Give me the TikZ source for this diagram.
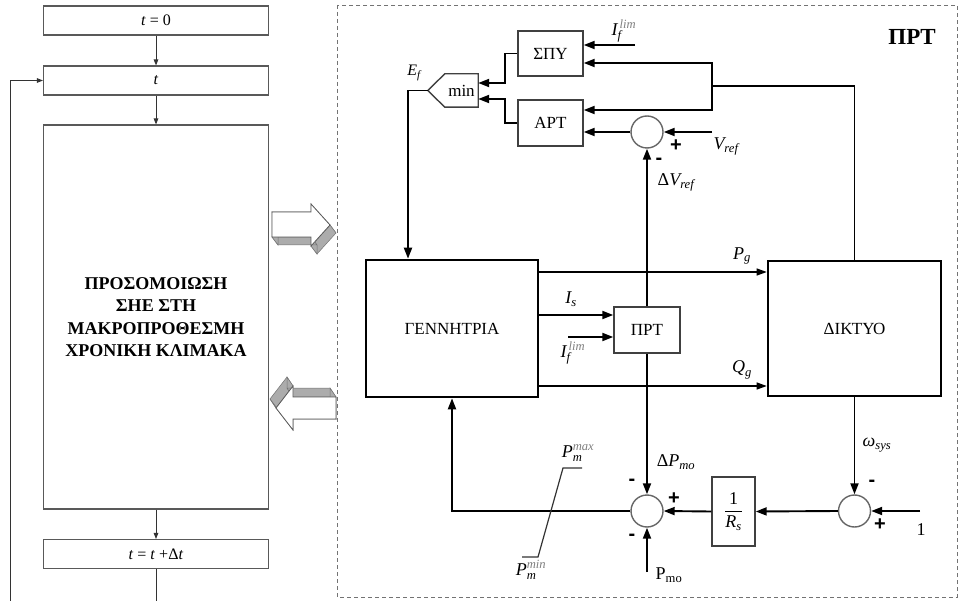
\documentclass[tikz,border=0pt]{standalone}
\usepackage{amsmath}
\usepackage{fontspec}
\setmainfont{Liberation Serif}
\newfontfamily\signfont{Liberation Sans}
\usetikzlibrary{arrows.meta,calc}
\newcommand{\vi}[1]{\textit{#1}}
\begin{document}
\begin{tikzpicture}[x=1pt,y=-1pt,
  flowbox/.style={draw=black!65, line width=1.1pt, minimum width=225, minimum height=29, inner sep=0, font=\fontsize{16}{18}\selectfont},
  flowarr/.style={draw=black!80, line width=0.9pt, -{Triangle[length=6pt,width=4.5pt]}},
  blk/.style={draw=black!75, line width=1.4pt, fill=white, inner sep=0, font=\fontsize{17}{19}\selectfont},
  bigblk/.style={draw=black, line width=2.6pt, inner sep=0, font=\fontsize{17}{19}\selectfont},
  sumc/.style={circle, draw=black!60, line width=1.4pt, minimum size=32, inner sep=0, fill=white},
  sig/.style={line width=1.9pt, -{Triangle[length=11pt,width=8pt]}},
  sigthin/.style={line width=1.3pt, -{Triangle[length=10pt,width=7pt]}},
  lbl/.style={font=\fontsize{18}{20}\selectfont, inner sep=0},
  sgn/.style={font=\signfont\bfseries\fontsize{20}{22}\selectfont, inner sep=0},
]
\useasboundingbox (0,0) rectangle (960,601);
\fill[white] (0,0) rectangle (960,601);

% ---------- left flow ----------
\node[flowbox] (t0) at (156,20.5) {\vi{t} = 0};
\node[flowbox] (tt) at (156,80.5) {\vi{t}};
\node[flowbox, minimum height=384, font=\bfseries\fontsize{18}{22.5}\selectfont, align=center] (sim) at (156,317)
  {ΠΡΟΣΟΜΟΙΩΣΗ\\ΣΗΕ ΣΤΗ\\ΜΑΚΡΟΠΡΟΘΕΣΜΗ\\ΧΡΟΝΙΚΗ ΚΛΙΜΑΚΑ};
\node[flowbox] (tinc) at (156,554) {\vi{t} = \vi{t} +Δ\vi{t}};
\coordinate (bot) at (156,601);
\coordinate (fb) at (10,601);
\draw[flowarr] (t0.south) -- (tt.north);
\draw[flowarr] (tt.south) -- (sim.north);
\draw[flowarr] (sim.south) -- (tinc.north);
\draw[draw=black!80, line width=0.9pt] (tinc.south) -- (bot);
\draw[flowarr] (fb) |- (tt.west);

% ---------- 3D block arrows ----------
\foreach \ax/\ay/\bx/\by in {272/212/311/212, 311/212/311/204, 311/204/330/225, 330/225/311/246, 311/246/311/237, 311/237/272/237, 272/237/272/212}{
  \filldraw[fill=gray!65, draw=black!55, line width=0.5pt] (\ax,\ay) -- (\bx,\by) -- (\bx+6,\by+8) -- (\ax+6,\ay+8) -- cycle;}
\filldraw[fill=white, draw=black!65, line width=0.8pt] (272,212) -- (311,212) -- (311,204) -- (330,225) -- (311,246) -- (311,237) -- (272,237) -- cycle;
\foreach \ax/\ay/\bx/\by in {276/408/293/386, 293/386/293/397, 293/397/336/397, 336/397/336/419, 336/419/293/419, 293/419/293/430, 293/430/276/408}{
  \filldraw[fill=gray!65, draw=black!55, line width=0.5pt] (\ax,\ay) -- (\bx,\by) -- (\bx-6,\by-9) -- (\ax-6,\ay-9) -- cycle;}
\filldraw[fill=white, draw=black!65, line width=0.8pt] (276,408) -- (293,386) -- (293,397) -- (336,397) -- (336,419) -- (293,419) -- (293,430) -- cycle;

% ---------- dashed frame ----------
\draw[black!55, line width=0.9pt, dash pattern=on 4pt off 3pt] (337,5) rectangle (957,597);
\node[font=\bfseries\fontsize{23}{26}\selectfont, inner sep=0] (title) at (912,37) {ΠΡΤ};

% ---------- blocks ----------
\node[blk, minimum width=65, minimum height=45] (spy) at (550.5,53.5) {ΣΠΥ};
\node[blk, minimum width=65, minimum height=46] (apt) at (550.5,123) {ΑΡΤ};
\node[inner sep=0, minimum width=33, minimum height=33, font=\fontsize{17}{19}\selectfont] (minn) at (461.5,90.5) {min};
\coordinate (mintip) at ($(minn.west)+(-17,0)$);
\draw[draw=black!75, line width=1.4pt] (minn.north east) -- (minn.south east) -- (minn.south west) -- (mintip) -- (minn.north west) -- cycle;
\node[sumc] (sum1) at (647,132) {};
\node[bigblk, minimum width=172, minimum height=137] (gen) at (452,328.5) {ΓΕΝΝΗΤΡΙΑ};
\node[bigblk, minimum width=173, minimum height=135] (net) at (854.5,328.5) {ΔΙΚΤΥΟ};
\node[blk, minimum width=66, minimum height=46] (prt) at (647,330) {ΠΡΤ};
\node[sumc] (sum2) at (647,511) {};
\node[blk, minimum width=43, minimum height=69, font=\fontsize{18}{20}\selectfont] (rbox) at (733.5,511.5) {$\dfrac{\text{1}}{\vi{R}_{\vi{s}}}$};
\node[sumc] (sum3) at (854.5,511) {};

% ---------- connectors ----------
\coordinate (j1) at (712,86);
\draw[line width=1.9pt] (net.north) |- (j1);
\draw[sig] (j1) |- ($(spy.east)+(0,9.5)$);
\draw[sig] (j1) |- ($(apt.east)+(0,-13)$);
\coordinate (iflim1) at (635,45);
\draw[sig] (iflim1) -- ($(spy.east)+(0,-8.5)$);
\coordinate (vref) at (712,132);
\draw[sig] (vref) -- (sum1.east);
\draw[sig] (sum1.west) -- (apt.east |- sum1.west);
\draw[sig] (spy.west) -- ++(-12,0) |- ($(minn.east)+(0,-7.5)$);
\draw[sig] (apt.west) -- ++(-12,0) |- ($(minn.east)+(0,8.5)$);
\draw[sig] (mintip) -| ($(gen.north)+(-44,0)$);
\draw[sig] (prt.north) -- (sum1.south);
\draw[sigthin] ($(gen.east)+(0,-56.5)$) -- ($(net.west)+(0,-56.5)$);
\draw[sigthin] ($(gen.east)+(0,57.5)$) -- ($(net.west)+(0,57.5)$);
\draw[sig] ($(gen.east)+(0,-13.5)$) -- ($(prt.west)+(0,-15)$);
\coordinate (iflim2) at (568,337);
\draw[sig] (iflim2) -- ($(prt.west)+(0,7)$);
\draw[sig] (prt.south) -- (sum2.north);
\draw[sig] (net.south) -- (sum3.north);
\coordinate (one) at (920,511);
\draw[sig] (one) -- (sum3.east);
\draw[sig] (sum3.west) -- (rbox.east);
\draw[sig] (rbox.west) -- (sum2.east);
\coordinate (pmo) at (647,572);
\draw[sig] (pmo) -- (sum2.south);
\draw[sig] (sum2.west) -| (gen.south);
% limiter
\draw[black!80, line width=1.2pt] (522,557) -- (538,557) -- (563,468) -- (582,468);

% ---------- labels ----------
\node[lbl, font=\fontsize{16}{18}\selectfont] at (414,73) {$\vi{E}_{\vi{f}}$};
\node[lbl] at (624,31) {$\vi{I}_{\vi{f}}^{\,\textcolor{black!50}{\vi{lim}}}$};
\node[lbl] at (726,146) {$\vi{V}_{\vi{ref}}$};
\node[sgn] at (676,146) {+};
\node[sgn] at (659,161) {-};
\node[lbl] at (676,182) {$\text{Δ}\vi{V}_{\vi{ref}}$};
\node[lbl] at (742,256) {$\vi{P}_{\vi{g}}$};
\node[lbl] at (742,370) {$\vi{Q}_{\vi{g}}$};
\node[lbl] at (571,299) {$\vi{I}_{\vi{s}}$};
\node[lbl] at (573,353) {$\vi{I}_{\vi{f}}^{\,\textcolor{black!50}{\vi{lim}}}$};
\node[lbl] at (676,462) {$\text{Δ}\vi{P}_{\vi{mo}}$};
\node[sgn] at (632,482) {-};
\node[sgn] at (674,499) {+};
\node[sgn] at (632,537) {-};
\node[lbl] at (669,575) {$\text{P}_{\text{mo}}$};
\node[lbl] at (578,453) {$\vi{P}_{\vi{m}}^{\textcolor{black!50}{\vi{max}}}$};
\node[lbl] at (531,570) {$\vi{P}_{\vi{m}}^{\textcolor{black!50}{\vi{min}}}$};
\node[lbl] at (877,445) {$\vi{ω}_{\vi{sys}}$};
\node[sgn] at (872,483) {-};
\node[sgn] at (880,525) {+};
\node[lbl] at (921,530) {1};
\end{tikzpicture}
\end{document}
